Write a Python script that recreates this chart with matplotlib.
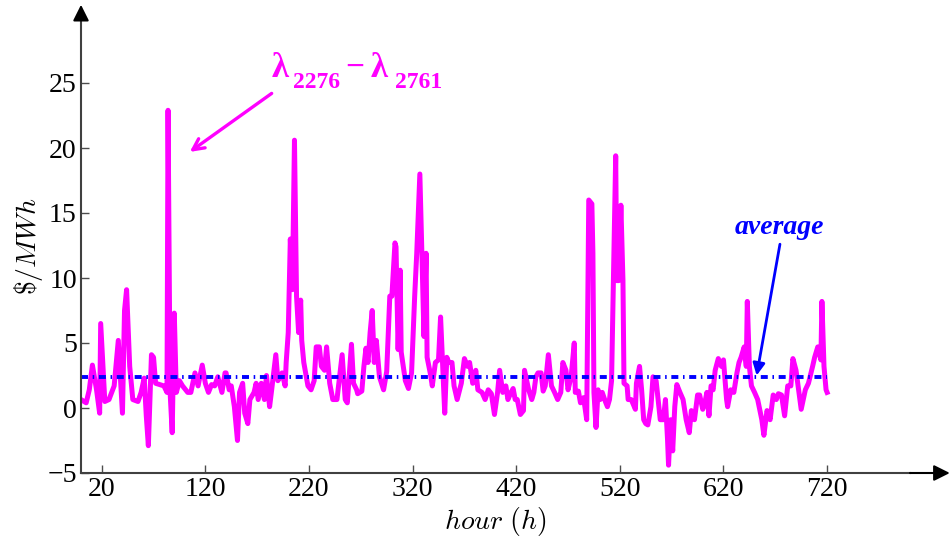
import numpy as np
import matplotlib.pyplot as plt

# LMP difference lambda_2276 - lambda_2761, hourly (peaks/troughs)
hours = [1, 5, 8, 11, 15, 18, 19, 23, 27, 32, 36, 40, 42, 44, 47, 50, 55, 58, 61, 63,
         65, 68, 70, 72, 76, 80, 83, 84, 86, 88, 90, 92, 95, 98, 103, 106, 110, 113, 117,
         120, 123, 126, 129, 132, 136, 139, 140, 143, 145, 148, 151, 153, 156, 158, 161,
         163, 167, 169, 171, 174, 177, 179, 182, 184, 188, 190, 194, 197, 198, 200, 202,
         204, 206, 208, 210, 212, 213, 215, 219, 222, 225, 227, 230, 232, 235, 237, 240,
         243, 247, 250, 252, 255, 257, 259, 261, 263, 266, 267, 271, 273, 275, 277, 279,
         281, 283, 285, 288, 290, 292, 295, 298, 300, 303, 304, 306, 308, 309, 313, 316,
         319, 322, 324, 327, 329, 331, 333, 334, 337, 339, 342, 345, 347, 349, 351, 353,
         355, 358, 360, 363, 367, 370, 373, 375, 378, 381, 383, 387, 390, 393, 396, 399,
         402, 404, 407, 410, 412, 415, 417, 419, 421, 424, 427, 428, 432, 435, 437, 439,
         441, 444, 446, 448, 451, 454, 457, 460, 463, 465, 468, 470, 473, 476, 477, 480,
         482, 485, 488, 490, 493, 494, 495, 497, 499, 501, 503, 506, 508, 510, 512, 514,
         516, 517, 519, 521, 523, 524, 527, 528, 531, 535, 536, 539, 541, 543, 545, 547,
         550, 552, 555, 559, 562, 564, 566, 567, 569, 571, 573, 575, 578, 581, 584, 587,
         589, 592, 595, 597, 600, 602, 604, 606, 608, 610, 612, 615, 618, 620, 623, 624,
         627, 630, 633, 635, 637, 640, 642, 643, 645, 647, 650, 653, 657, 659, 662, 665,
         668, 671, 673, 676, 679, 682, 685, 687, 690, 692, 695, 699, 702, 706, 708, 711,
         714, 715, 717, 719, 720]
price_diff = [0.6, 0.4, 1.4, 3.3, 1.4, -0.4, 6.5, 0.5, 0.65, 1.7, 5.2, -0.4, 7.5, 9.1, 3.2,
              0.65, 0.5, 1.2, 2.3, -0.6, -2.9, 4.1, 3.9, 1.9, 1.8, 1.7, 1.2, 22.9, 1.2, -1.9,
              7.3, 1.2, 2.1, 1.7, 1.2, 1.2, 2.7, 1.7, 3.3,
              1.9, 1.2, 1.8, 1.7, 2.4, 1.2, 2.7, 2.7, 1.4, 1.7, 0.1, -2.5, 1.2, 1.9, -0.4,
              -1.2, 0.65, 1.2, 1.9, 0.65, 1.9, 0.65, 2.5, 0.1, 1.4, 4.1, 2.1, 2.7, 1.7, 3.5,
              5.8, 13.0, 9.1, 20.6, 8.6, 5.8, 8.3, 5.2, 3.5, 1.7, 1.4, 2.1, 4.7, 4.7, 3.2,
              2.9, 4.7, 1.9, 0.65,
              0.65, 2.7, 4.1, 0.65, 0.4, 2.7, 4.9, 1.9, 1.4, 1.1, 1.3, 3.2, 4.6, 3.5, 5.8,
              7.5, 3.5, 5.2, 2.4, 1.9, 1.4, 2.8, 8.6, 8.6, 12.7, 12.4, 4.5, 10.6, 4.3, 2.1,
              1.5, 2.7, 8.6, 11.9, 18.0, 11.9, 5.5, 11.9, 3.9, 2.7, 1.7, 3.5, 3.7, 7.0, 3.2,
              -0.4, 3.9, 3.5, 3.5, 1.7, 0.65,
              1.9, 3.8, 3.2, 3.5, 1.9, 2.9, 1.4, 1.2, 0.65, 1.4, 1.1, -0.5, 1.2, 2.9, 1.2,
              1.7, 0.65, 1.2, 1.5, 0.65, 0.65, -0.5, -0.2, 2.9, 1.4, 0.65, 1.2, 2.4, 2.7,
              2.7, 1.3, 1.7, 4.1, 1.7, 1.2, 0.65, 1.2, 3.5, 2.9, 1.4, 2.4, 5.0, 1.2, 1.3,
              0.4,
              0.8, -0.9, 16.0, 15.7, 11.9, 1.2, -1.5, 1.4, 0.65, 1.2, 0.5, 0.1, 0.65, 2.1,
              10.9, 19.4, 9.8, 9.8, 15.6, 9.8, 1.9, 1.7, 0.65, 0.65, -0.1, 1.9, 3.2, 1.4,
              -0.9, -1.2, -1.3, 0.1, 2.4, 2.1, -0.9, -0.9, 0.65, -2.4, -4.4, -0.9, -3.3,
              0.1, 1.8, 1.2, 0.65, -0.9, -1.9, -0.2, -0.9, 1.0, 1.0, -0.1, 0.4, 1.2,
              -0.6, 1.7, 1.4, 2.9, 3.8, 3.2, 3.7, 0.65, 0.1, 1.4, 1.2, 2.7, 3.5, 3.9, 4.7,
              3.2, 8.2, 3.2, 1.7, 1.2, 0.65, -0.9, -2.1, -0.2, -0.9, 1.0, 0.65, 1.1, 1.0,
              -0.6, 1.7, 1.7, 3.8, 2.9, 1.7, -0.1, 1.4, 1.9, 3.2, 3.9, 4.7, 3.7, 8.2, 3.2,
              1.4, 1.2]
average = 2.35
xticks = [20, 120, 220, 320, 420, 520, 620, 720]
yticks = [-5, 0, 5, 10, 15, 20, 25]

plt.rcParams['mathtext.fontset'] = 'cm'
plt.rcParams['font.family'] = 'Liberation Serif'

W, H = 951, 543
fig = plt.figure(figsize=(W / 100, H / 100), dpi=100)
ax = fig.add_axes([81 / W, 1 - 473 / H, 829 / W, 455 / H])

ax.plot(hours, price_diff, color='#FF00FF', lw=3.6, solid_joinstyle='round')
ax.plot([0, 720], [average, average], color='#0000FF', lw=2.8,
        linestyle=(0, (1.8, 1.2, 0.4, 1.2)), dash_capstyle='butt')

ax.set_xlim(0, 800)
ax.set_ylim(-5, 30)
ax.set_xticks(xticks)
ax.set_yticks(yticks)
ax.set_yticklabels(['\u22125' if t == -5 else str(t) for t in yticks])
ax.tick_params(direction='in', length=6, width=1, color='0.3', labelsize=20, pad=3)
for s in ['top', 'right']:
    ax.spines[s].set_visible(False)
for s in ['left', 'bottom']:
    ax.spines[s].set_color('0.25')
    ax.spines[s].set_linewidth(1.5)

# axis arrows
ax.annotate('', xy=(1.048, 0), xytext=(1.0, 0), xycoords='axes fraction',
            arrowprops=dict(arrowstyle='-|>', color='k', lw=1.5, mutation_scale=24,
                            shrinkA=0, shrinkB=0), annotation_clip=False)
ax.annotate('', xy=(0, 1.029), xytext=(0, 1.0), xycoords='axes fraction',
            arrowprops=dict(arrowstyle='-|>', color='k', lw=1.5, mutation_scale=24,
                            shrinkA=0, shrinkB=0), annotation_clip=False)

ax.set_xlabel(r'$hour\ (h)$', fontsize=20, labelpad=2)
ax.set_ylabel(r'$\$/MWh$', fontsize=20, labelpad=2)

# lambda annotation
mag = '#FF00FF'
def ftxt(px, py, s, **kw):
    fig.text(px / W, 1 - py / H, s, color=mag, **kw)
ftxt(272, 77, '\u03bb', fontsize=25, fontweight='bold', va='baseline')
ftxt(293, 88, '2276', fontsize=17, fontweight='bold', va='baseline')
ftxt(345, 76, '\u2212', fontsize=24, fontweight='bold', va='baseline')
ftxt(371, 77, '\u03bb', fontsize=25, fontweight='bold', va='baseline')
ftxt(395, 88, '2761', fontsize=17, fontweight='bold', va='baseline')
ax.annotate('', xy=(105, 19.7), xytext=(184, 24.2),
            arrowprops=dict(arrowstyle='->', color=mag, lw=2.4, mutation_scale=20,
                            shrinkA=0, shrinkB=0))

# average annotation
ax.text(674, 13.9, 'average', color='#0000FF', fontsize=20, fontweight='bold',
        fontstyle='italic', ha='center', va='center')
ax.annotate('', xy=(652, 2.5), xytext=(674.5, 12.6),
            arrowprops=dict(arrowstyle='-|>', color='#0000FF', lw=2.0, mutation_scale=18,
                            shrinkA=0, shrinkB=0))

fig.savefig('out.png', dpi=100)
